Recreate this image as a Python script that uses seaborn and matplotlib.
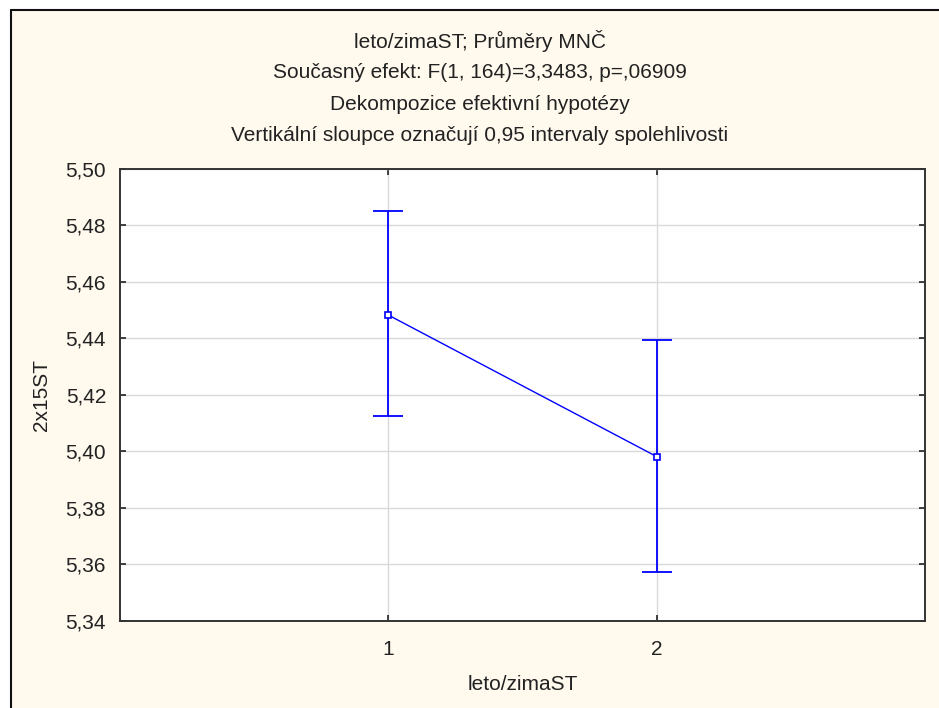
import matplotlib
matplotlib.use("Agg")
import matplotlib.pyplot as plt
import seaborn as sns
import pandas as pd
import numpy as np
from matplotlib.ticker import FuncFormatter, FixedLocator

# ---- data ----
groups = [1, 2]
means = [5.4483, 5.3982]
lower = [5.4125, 5.3573]
upper = [5.4850, 5.4395]
y_ticks = [5.34, 5.36, 5.38, 5.40, 5.42, 5.44, 5.46, 5.48, 5.50]
x_ticks = [1, 2]
title_lines = [
    "leto/zimaST; Průměry MNČ",
    "Současný efekt: F(1, 164)=3,3483, p=,06909",
    "Dekompozice efektivní hypotézy",
    "Vertikální sloupce označují 0,95 intervaly spolehlivosti",
]
x_label = "leto/zimaST"
y_label = "2x15ST"

sns.set_theme(style="white")
plt.rcParams["font.family"] = ["Liberation Sans", "DejaVu Sans"]

FS = 15
BG = "#FFF9EE"
BLUE = "#0000FF"
TXT = "#222222"
fig = plt.figure(figsize=(9.39, 7.08), dpi=100, facecolor=BG)
W, H = 939, 708
ax = fig.add_axes([120 / W, 1 - 621 / H, (925 - 120) / W, (621 - 169) / H])
ax.set_facecolor("white")

df = pd.DataFrame({"grp": groups, "mean": means, "lo": lower, "hi": upper})
yerr = np.vstack([df["mean"] - df["lo"], df["hi"] - df["mean"]])
ax.errorbar(df["grp"], df["mean"], yerr=yerr, fmt="none", ecolor=BLUE,
            elinewidth=1.3, capsize=11, capthick=1.3, zorder=3)
sns.lineplot(data=df, x="grp", y="mean", ax=ax, color=BLUE, linewidth=1.0,
             marker="s", markersize=4, markerfacecolor="white",
             markeredgecolor=BLUE, markeredgewidth=1.2, zorder=4)

ax.set_xlim(0, 3)
ax.set_ylim(5.34, 5.50)
ax.xaxis.set_major_locator(FixedLocator(x_ticks))
ax.yaxis.set_major_locator(FixedLocator(y_ticks))
ax.yaxis.set_major_formatter(FuncFormatter(lambda v, p: f"{v:.2f}".replace(".", ",")))
ax.xaxis.set_major_formatter(FuncFormatter(lambda v, p: f"{int(round(v))}"))
ax.grid(True, color="#D9D9D9", linewidth=1.0, zorder=0)
ax.set_axisbelow(True)
for s in ax.spines.values():
    s.set_color("#333333")
    s.set_linewidth(1.4)
ax.tick_params(axis="both", direction="in", length=4, width=1.2, color=TXT,
               labelsize=FS, labelcolor=TXT, top=True, right=True,
               bottom=True, left=True)
ax.tick_params(axis="y", pad=10)
ax.tick_params(axis="x", pad=14)

ax.set_xlabel(x_label, fontsize=FS, color=TXT)
ax.set_ylabel(y_label, fontsize=FS, color=TXT)
ax.yaxis.set_label_coords((42 - 120) / (925 - 120), (621 - 395) / (621 - 169))
ax.xaxis.set_label_coords(0.5, -(685 - 621) / (621 - 169))
ax.xaxis.label.set_va("center")
ax.yaxis.label.set_va("center")

for i, t in enumerate(title_lines):
    fig.text(480 / W, 1 - (41 + i * 31.5) / H, t, ha="center", va="center",
             fontsize=FS, color=TXT)

# outer frame (left and top edges visible)
fig.add_artist(plt.Line2D([11 / W, 11 / W], [0, 1 - 10 / H], transform=fig.transFigure,
                          color="#111111", linewidth=1.5))
fig.add_artist(plt.Line2D([11 / W, 1], [1 - 10 / H, 1 - 10 / H], transform=fig.transFigure,
                          color="#111111", linewidth=1.5))
fig.add_artist(plt.Rectangle((0, 1 - 10 / H), 1, 10 / H, transform=fig.transFigure,
                             facecolor="white", edgecolor="none", zorder=-1))
fig.add_artist(plt.Rectangle((0, 0), 11 / W, 1, transform=fig.transFigure,
                             facecolor="white", edgecolor="none", zorder=-1))

fig.savefig("out.png", dpi=100, facecolor=BG)
